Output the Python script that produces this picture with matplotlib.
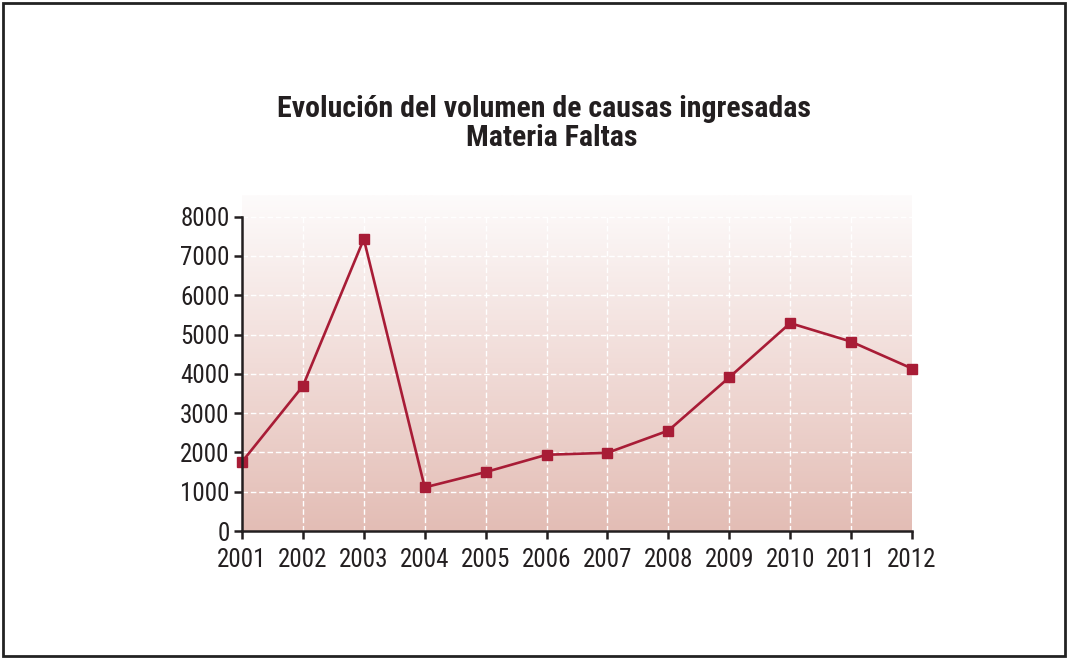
import matplotlib
matplotlib.use("Agg")
import matplotlib.pyplot as plt
import numpy as np
from matplotlib.colors import LinearSegmentedColormap
from matplotlib.patches import Rectangle

years = [2001, 2002, 2003, 2004, 2005, 2006, 2007, 2008, 2009, 2010, 2011, 2012]
causas = [1760, 3690, 7430, 1110, 1500, 1940, 1990, 2555, 3910, 5290, 4820, 4135]
yticks = [0, 1000, 2000, 3000, 4000, 5000, 6000, 7000, 8000]
title_lines = ["Evolución del volumen de causas ingresadas", "Materia Faltas"]

fam = ['Roboto Condensed', 'Archivo Narrow', 'DejaVu Sans']
plt.rcParams['font.family'] = fam

fig = plt.figure(figsize=(10.68, 6.58), dpi=100)
fig.patches.append(Rectangle((0.003, 0.003), 0.994, 0.992, transform=fig.transFigure,
                             fill=False, edgecolor='#222222', linewidth=2))

ax = fig.add_axes([0.2266, 0.193, 0.6273, 0.5106])
ymax = 8550
ax.set_xlim(2001, 2012)
ax.set_ylim(0, ymax)

cmap = LinearSegmentedColormap.from_list('g', ['#e3bdb5', '#f1dcd8', '#fdfbfb'])
grad = np.linspace(0, 1, 256).reshape(-1, 1)
ax.imshow(grad, extent=[2001, 2012, 0, ymax], origin='lower', aspect='auto',
          cmap=cmap, zorder=0)

for y in yticks[1:]:
    ax.axhline(y, color='white', lw=1, ls=(0, (4, 2)), zorder=1)
for x in years[1:-1]:
    ax.axvline(x, ymax=8000 / ymax, color='white', lw=1, ls=(0, (4, 2)), zorder=1)

ax.plot(years, causas, color='#a81c36', lw=1.9, marker='s', markersize=7.8,
        markerfacecolor='#a81c36', markeredgecolor='#a81c36', clip_on=False, zorder=3)

for s in ['top', 'right']:
    ax.spines[s].set_visible(False)
ax.spines['left'].set_bounds(0, 8000)
for s in ['left', 'bottom']:
    ax.spines[s].set_linewidth(1.8)
    ax.spines[s].set_color('#231f20')
    ax.spines[s].set_zorder(4)

ax.set_yticks(yticks)
ax.set_xticks(years)
ax.set_xticklabels([str(y) for y in years])
ax.tick_params(axis='both', direction='out', length=6, width=1.8, color='#231f20',
               labelsize=18, labelcolor='#231f20')
ax.tick_params(axis='x', pad=6)
ax.tick_params(axis='y', pad=3)

fig.text(0.5098, 0.835, title_lines[0], ha='center', va='center', fontsize=21.5,
         fontweight=800, color='#231f20', family=fam)
fig.text(0.5164, 0.791, title_lines[1], ha='center', va='center', fontsize=21.5,
         fontweight=800, color='#231f20', family=fam)

fig.savefig('out.png', dpi=100)
